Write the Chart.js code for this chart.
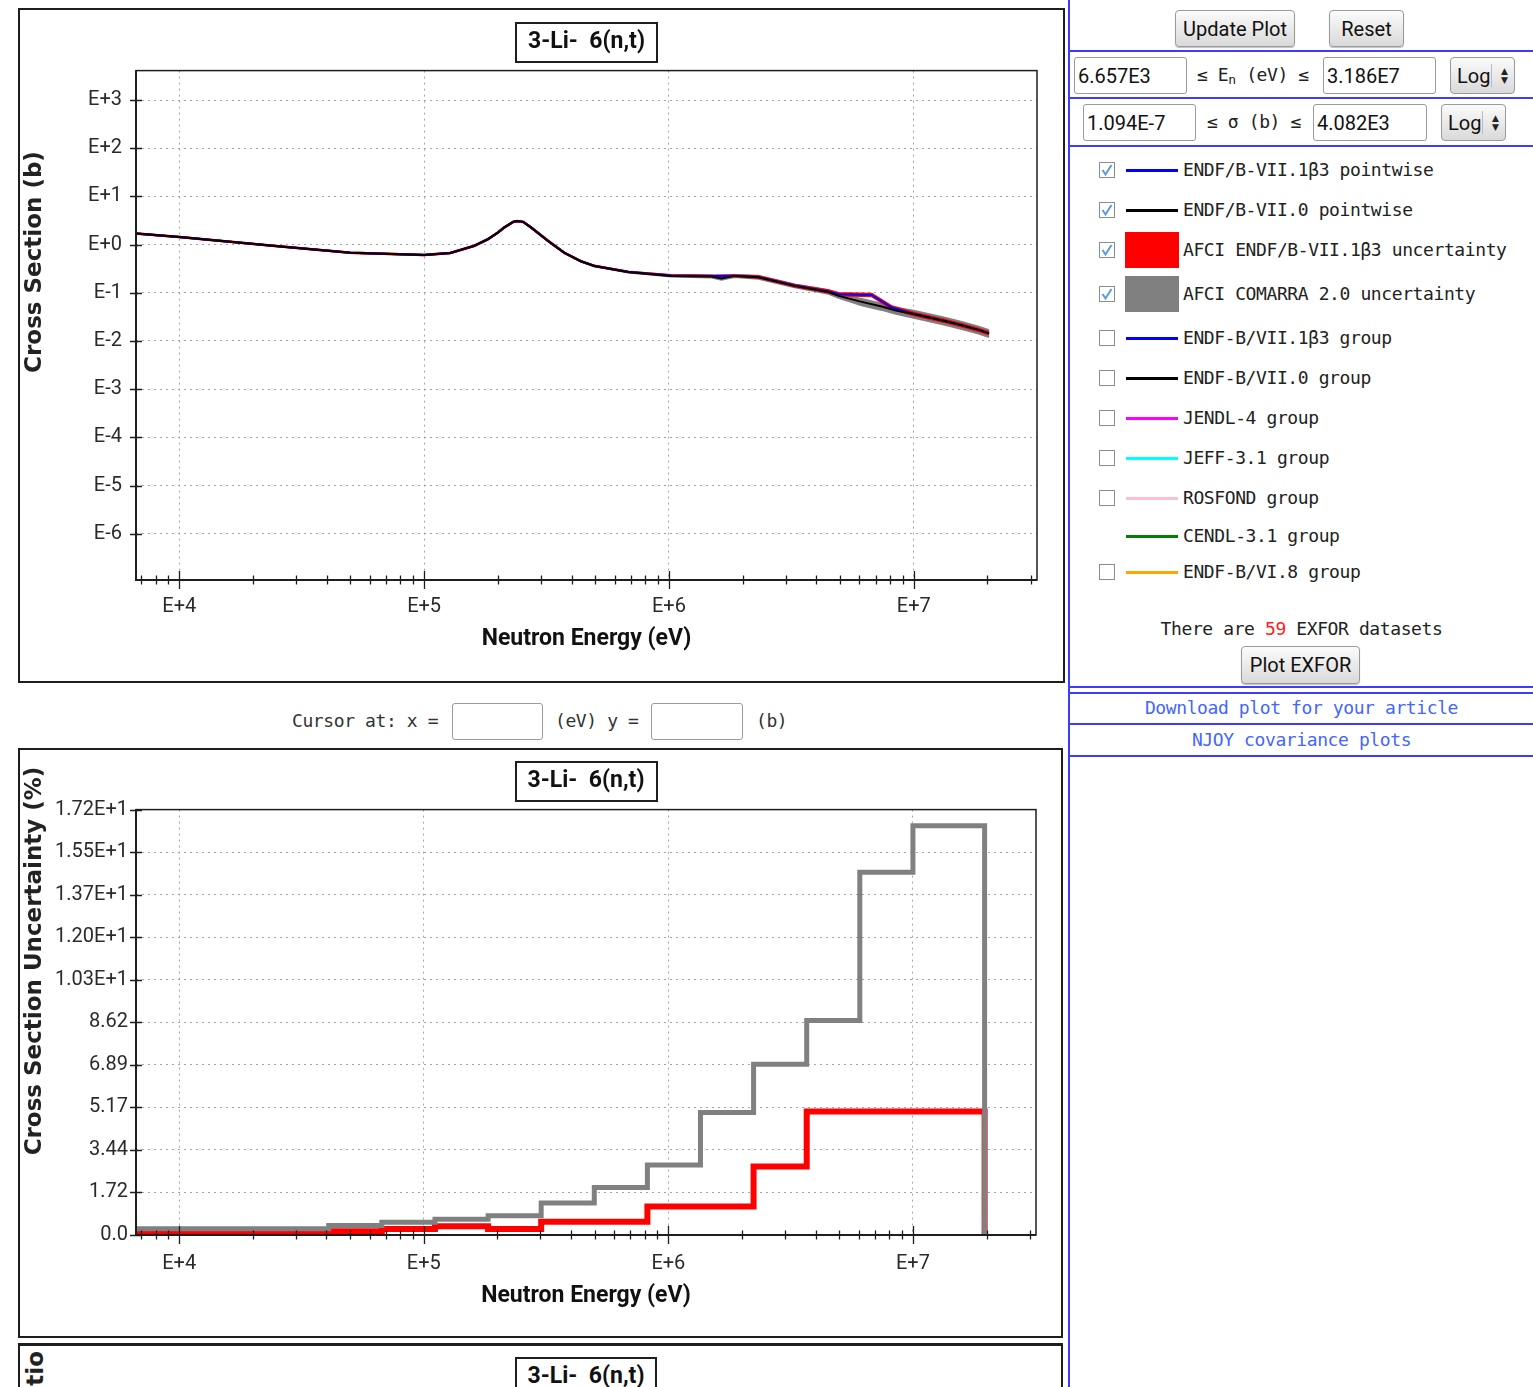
<!DOCTYPE html>
<html><head><meta charset="utf-8"><title>3-Li-6(n,t)</title>
<script src="https://cdn.jsdelivr.net/npm/chart.js@4.4.1/dist/chart.umd.min.js"></script>
<style>
html,body{margin:0;padding:0;width:1533px;height:1387px;overflow:hidden;background:#fff;}
.a{position:absolute;}
.box{position:absolute;border:2px solid #1e1e1e;box-sizing:border-box;background:#fff;}
.mono{position:absolute;font-family:'DejaVu Sans Mono',monospace;font-size:18px;letter-spacing:-0.4px;color:#222;white-space:pre;line-height:20px;}
.nar{font-family:Roboto,'Liberation Sans Narrow',sans-serif;}
.btn{position:absolute;box-sizing:border-box;border:1px solid #9a9a9a;border-radius:4px;background:linear-gradient(#fbfbfb,#d9d9d9);box-shadow:0 1px 1px rgba(0,0,0,0.25);font-size:20px;color:#111;display:flex;align-items:center;justify-content:center;}
.inp{position:absolute;box-sizing:border-box;border:1px solid #9a9a9a;border-radius:3px;background:#fff;font-size:20px;color:#111;padding-left:3px;display:flex;align-items:center;}
.sel{position:absolute;box-sizing:border-box;border:1px solid #9a9a9a;border-radius:4px;background:linear-gradient(#fbfbfb,#d9d9d9);font-size:20px;color:#111;}
.sel .t{position:absolute;left:6px;top:0;bottom:0;display:flex;align-items:center;}
.sel .s{position:absolute;right:22px;top:6px;bottom:6px;width:1px;background:#bbb;}
.sel .ar{position:absolute;right:6px;top:50%;transform:translateY(-50%);font-size:9px;line-height:9px;color:#222;font-family:'DejaVu Sans',sans-serif;}
.bl{position:absolute;background:#3c3cff;}
.cb{position:absolute;left:1099px;}
.sw{position:absolute;left:1126px;width:52px;height:3px;}
.lnk{position:absolute;left:1070px;width:463px;text-align:center;color:#4466ff;}
</style></head><body>

<!-- left panel boxes -->
<div class="box" style="left:18px;top:8px;width:1047px;height:675px;"></div>
<canvas id="c1" class="a" style="left:20px;top:10px;" width="1042" height="670"></canvas>

<div class="mono" style="left:292px;top:711px;color:#333;">Cursor at: x =</div>
<div class="inp" style="left:452px;top:703px;width:91px;height:37px;"></div>
<div class="mono" style="left:555px;top:711px;color:#333;">(eV) y =</div>
<div class="inp" style="left:651px;top:703px;width:92px;height:37px;"></div>
<div class="mono" style="left:756px;top:711px;color:#333;">(b)</div>

<div class="box" style="left:18px;top:748px;width:1045px;height:590px;"></div>
<canvas id="c2" class="a" style="left:20px;top:750px;" width="1041" height="586"></canvas>

<div class="box" style="left:18px;top:1343px;width:1045px;height:100px;border-top-width:3px;"></div>
<div class="a nar" style="left:515px;top:1357px;width:142px;height:40px;box-sizing:border-box;border:2px solid #1e1e1e;font-size:23px;font-weight:bold;color:#111;text-align:center;line-height:34px;white-space:pre;">3-Li-  6(n,t)</div>
<div class="a" style="left:23px;top:1351px;transform-origin:0 0;transform:rotate(-90deg) translateX(-100%);font-family:'DejaVu Sans',sans-serif;font-weight:bold;font-size:23px;line-height:25px;color:#222;white-space:nowrap;">Ratio</div>

<!-- right panel -->
<div class="bl" style="left:1068px;top:0;width:2px;height:1387px;"></div>
<div class="bl" style="left:1070px;top:50px;width:463px;height:2px;"></div>
<div class="bl" style="left:1070px;top:97px;width:463px;height:2px;"></div>
<div class="bl" style="left:1070px;top:145px;width:463px;height:2px;"></div>
<div class="bl" style="left:1070px;top:686px;width:463px;height:2px;"></div>
<div class="bl" style="left:1070px;top:692px;width:463px;height:2px;"></div>
<div class="bl" style="left:1070px;top:723px;width:463px;height:2px;"></div>
<div class="bl" style="left:1070px;top:755px;width:463px;height:2px;"></div>

<div class="btn nar" style="left:1175px;top:10px;width:120px;height:37px;">Update Plot</div>
<div class="btn nar" style="left:1329px;top:10px;width:75px;height:37px;">Reset</div>

<div class="inp nar" style="left:1074px;top:57px;width:113px;height:37px;">6.657E3</div>
<div class="mono" style="left:1197px;top:65px;">≤ E<span style="font-size:13px;vertical-align:-3px;">n</span> (eV) ≤</div>
<div class="inp nar" style="left:1323px;top:57px;width:113px;height:37px;">3.186E7</div>
<div class="sel nar" style="left:1450px;top:57px;width:65px;height:37px;"><span class="t">Log</span><span class="s"></span><span class="ar">▲<br>▼</span></div>

<div class="inp nar" style="left:1083px;top:104px;width:113px;height:37px;">1.094E-7</div>
<div class="mono" style="left:1207px;top:112px;">≤ σ (b) ≤</div>
<div class="inp nar" style="left:1313px;top:104px;width:114px;height:37px;">4.082E3</div>
<div class="sel nar" style="left:1441px;top:104px;width:65px;height:37px;"><span class="t">Log</span><span class="s"></span><span class="ar">▲<br>▼</span></div>

<div id="legend"></div>

<div class="mono" style="left:1070px;top:619px;width:463px;text-align:center;">There are <span style="color:#ff2020;">59</span> EXFOR datasets</div>
<div class="btn nar" style="left:1241px;top:646px;width:119px;height:38px;">Plot EXFOR</div>
<div class="mono lnk" style="top:698px;color:#4466ff;">Download plot for your article</div>
<div class="mono lnk" style="top:730px;color:#4466ff;">NJOY covariance plots</div>

<script>
// ---------------- data ----------------
// axis limits (from the range boxes)
const xMin = 6.657e3, xMax = 3.186e7;
const yMin = 1.094e-7, yMax = 4.082e3;

// tick labels
const xMajor = [1e4, 1e5, 1e6, 1e7];
const xMajorLabels = ['E+4', 'E+5', 'E+6', 'E+7'];
const yMajor = [1e-6, 1e-5, 1e-4, 1e-3, 1e-2, 1e-1, 1, 10, 100, 1000];
const yMajorLabels = ['E-6', 'E-5', 'E-4', 'E-3', 'E-2', 'E-1', 'E+0', 'E+1', 'E+2', 'E+3'];
const uncTicks = [0, 1.723, 3.446, 5.169, 6.892, 8.615, 10.338, 12.061, 13.784, 15.507, 17.23];
const uncTickLabels = ['0.0', '1.72', '3.44', '5.17', '6.89', '8.62', '1.03E+1', '1.20E+1', '1.37E+1', '1.55E+1', '1.72E+1'];
const uncMax = 17.23;

// ENDF/B-VII.0 pointwise cross section (eV, barn)
const e70 = [6.66e3, 1.0e4, 2.6e4, 5.0e4, 1.0e5, 1.28e5, 1.6e5, 1.82e5, 2.0e5, 2.12e5, 2.31e5, 2.39e5, 2.54e5, 2.74e5, 3.21e5, 3.73e5, 4.37e5, 4.96e5, 6.82e5, 1.02e6, 1.49e6, 1.64e6, 1.85e6, 2.32e6, 3.26e6, 4.49e6, 4.93e6, 6.13e6, 7.40e6, 8.37e6, 1.01e7, 1.34e7, 1.57e7, 1.84e7, 2.03e7];
const xs70 = [1.69, 1.44, 0.91, 0.68, 0.61, 0.67, 0.94, 1.29, 1.77, 2.25, 2.96, 3.07, 2.96, 2.25, 1.19, 0.68, 0.45, 0.36, 0.27, 0.224, 0.217, 0.197, 0.224, 0.21, 0.139, 0.104, 0.0863, 0.0648, 0.0517, 0.0433, 0.0358, 0.026, 0.0212, 0.017, 0.0144];

// ENDF/B-VII.1b3 pointwise cross section (eV, barn)
const e71 = [6.66e3, 1.0e4, 2.6e4, 5.0e4, 1.0e5, 1.28e5, 1.6e5, 1.82e5, 2.0e5, 2.12e5, 2.31e5, 2.39e5, 2.54e5, 2.74e5, 3.21e5, 3.73e5, 4.37e5, 4.96e5, 6.82e5, 1.02e6, 1.49e6, 1.85e6, 2.32e6, 3.26e6, 4.49e6, 4.93e6, 6.73e6, 8.13e6, 1.01e7, 1.34e7, 1.57e7, 1.84e7, 2.03e7];
const xs71 = [1.69, 1.44, 0.91, 0.68, 0.61, 0.67, 0.94, 1.29, 1.77, 2.25, 2.96, 3.07, 2.96, 2.25, 1.19, 0.68, 0.45, 0.36, 0.27, 0.229, 0.222, 0.226, 0.212, 0.141, 0.106, 0.093, 0.090, 0.0493, 0.0358, 0.026, 0.0212, 0.017, 0.0144];

// uncertainty group boundaries (eV) and relative uncertainties (%)
const uncEdges = [5.531e3, 4.087e4, 6.738e4, 1.111e5, 1.832e5, 3.020e5, 4.979e5, 8.209e5, 1.353e6, 2.231e6, 3.679e6, 6.065e6, 1.0e7, 1.964e7];
const comarraUnc = [0.25, 0.38, 0.52, 0.64, 0.78, 1.30, 1.92, 2.84, 4.96, 6.92, 8.69, 14.69, 16.58];
const endf71Unc = [0.05, 0.15, 0.24, 0.35, 0.24, 0.54, 0.54, 1.15, 1.15, 2.77, 5.00, 5.00, 5.00];

// ---------------- helpers ----------------
const NARROW = "Roboto, 'Liberation Sans Narrow', sans-serif";
const xMinor = [];
[1e3, 1e4, 1e5, 1e6, 1e7].forEach(d => { for (let m = 2; m <= 9; m++) { const v = m * d; if (v > xMin && v < xMax) xMinor.push(v); } });

const pts = (ex, ys) => ex.map((e, i) => ({ x: e, y: ys[i] }));
const uncAt = (e, vals) => { let k = 0; while (k < vals.length - 1 && e >= uncEdges[k + 1]) k++; return vals[k]; };
const band = (ex, ys, vals, sign) => ex.map((e, i) => ({ x: e, y: ys[i] * (1 + sign * uncAt(e, vals) / 100) }));
const stepPts = (edges, vals) => {
  const p = vals.map((v, i) => ({ x: edges[i], y: v }));
  p.push({ x: edges[vals.length], y: vals[vals.length - 1] });
  p.push({ x: edges[vals.length], y: 0 });
  return p;
};

// ---------------- plugins ----------------
const frameTicks = {
  id: 'frameTicks',
  afterDatasetsDraw(chart, args, o) {
    const { ctx, chartArea: a, scales } = chart;
    const sx = scales.x, sy = scales.y;
    ctx.save();
    ctx.strokeStyle = '#1e1e1e';
    ctx.lineWidth = 1.5;
    ctx.strokeRect(a.left, a.top, a.right - a.left, a.bottom - a.top);
    ctx.lineWidth = 2;
    ctx.beginPath(); ctx.moveTo(a.left, a.top); ctx.lineTo(a.left, a.bottom); ctx.lineTo(a.right, a.bottom); ctx.stroke();
    ctx.lineWidth = 1.3;
    ctx.beginPath();
    xMajor.forEach(v => { const p = Math.round(sx.getPixelForValue(v)) + 0.5; ctx.moveTo(p, a.bottom - 9); ctx.lineTo(p, a.bottom + 9); });
    xMinor.forEach(v => { const p = Math.round(sx.getPixelForValue(v)) + 0.5; if (p > a.left + 1 && p < a.right - 1) { ctx.moveTo(p, a.bottom - 4.5); ctx.lineTo(p, a.bottom + 4.5); } });
    o.yTicks.forEach(v => { const p = Math.round(sy.getPixelForValue(v)) + 0.5; ctx.moveTo(a.left - 6, p); ctx.lineTo(a.left + 6, p); });
    ctx.stroke();
    ctx.restore();
  }
};
const titleBox = {
  id: 'titleBox',
  afterDraw(chart) {
    const t = chart.titleBlock; if (!t) return;
    const to = chart.options.plugins.title;
    const font = Chart.helpers.toFont(to.font);
    const pad = Chart.helpers.toPadding(to.padding);
    const ctx = chart.ctx;
    ctx.save();
    ctx.font = font.string;
    const w = ctx.measureText(to.text).width + 24;
    const cx = (t.left + t.right) / 2;
    const cy = t.top + pad.top + font.lineHeight / 2;
    ctx.strokeStyle = '#1e1e1e'; ctx.lineWidth = 2;
    ctx.strokeRect(Math.round(cx - w / 2), Math.round(cy - 19), Math.round(w), 39);
    ctx.restore();
  }
};
const yTitle = {
  id: 'yTitle',
  afterDraw(chart, args, o) {
    const ctx = chart.ctx;
    ctx.save();
    ctx.translate(o.x, o.y); ctx.rotate(-Math.PI / 2);
    ctx.font = "bold 23px 'DejaVu Sans', sans-serif";
    ctx.fillStyle = '#222'; ctx.textAlign = 'center'; ctx.textBaseline = 'middle';
    ctx.fillText(o.text, 0, 0);
    ctx.restore();
  }
};

const gridCfg = { color: '#a4a4a4', lineWidth: 1, drawTicks: false };
const borderCfg = { display: false, dash: [2, 4] };
const tickFont = { family: NARROW, size: 20 };

function xScale(h, lblPad, titlePad) {
  return {
    type: 'logarithmic', position: 'bottom', min: xMin, max: xMax, bounds: 'data',
    afterBuildTicks: s => { s.ticks = xMajor.map(v => ({ value: v, major: true })); },
    afterFit: s => { s.height = h; },
    ticks: { autoSkip: false, maxRotation: 0, padding: lblPad, color: '#2a2a2a', font: tickFont,
      callback: v => { const i = xMajor.indexOf(v); return i >= 0 ? xMajorLabels[i] : ''; } },
    grid: gridCfg, border: borderCfg,
    title: { display: true, text: 'Neutron Energy (eV)', color: '#111', font: { family: NARROW, size: 23, weight: 'bold' }, padding: { top: 0, bottom: titlePad } }
  };
}

// ---------------- chart 1: cross section ----------------
new Chart(document.getElementById('c1'), {
  type: 'line',
  data: {
    datasets: [
      { label: 'ENDF/B-VII.0 pointwise', data: pts(e70, xs70), borderColor: '#000000', borderWidth: 2, pointRadius: 0, tension: 0, fill: false },
      { label: 'ENDF/B-VII.1β3 pointwise', data: pts(e71, xs71), borderColor: '#0000ff', borderWidth: 2, pointRadius: 0, tension: 0, fill: false },
      { label: 'AFCI ENDF/B-VII.1β3 uncertainty', data: band(e71, xs71, endf71Unc, 1), borderColor: '#ff0000', borderWidth: 2.5, pointRadius: 0, tension: 0, fill: false },
      { label: 'AFCI ENDF/B-VII.1β3 uncertainty (low)', data: band(e71, xs71, endf71Unc, -1), borderColor: '#ff0000', backgroundColor: '#ff0000', borderWidth: 2.5, pointRadius: 0, tension: 0, fill: '-1' },
      { label: 'AFCI COMARRA 2.0 uncertainty', data: band(e70, xs70, comarraUnc, 1), borderColor: '#808080', borderWidth: 2, pointRadius: 0, tension: 0, fill: false },
      { label: 'AFCI COMARRA 2.0 uncertainty (low)', data: band(e70, xs70, comarraUnc, -1), borderColor: '#808080', backgroundColor: '#808080', borderWidth: 2, pointRadius: 0, tension: 0, fill: '-1' }
    ]
  },
  options: {
    responsive: false, animation: false, devicePixelRatio: 1,
    layout: { padding: { left: 0, right: 25, top: 0, bottom: 0 } },
    plugins: {
      legend: { display: false }, tooltip: { enabled: false },
      title: { display: true, text: '3-Li-  6(n,t)', fullSize: false, color: '#111', font: { family: NARROW, size: 23, weight: 'bold' }, padding: { top: 18, bottom: 15 } },
      yTitle: { text: 'Cross Section (b)', x: 15, y: 252 },
      frameTicks: { yTicks: yMajor }
    },
    scales: {
      x: xScale(100, 15, 27),
      y: {
        type: 'logarithmic', min: yMin, max: yMax, bounds: 'data',
        afterBuildTicks: s => { s.ticks = yMajor.map(v => ({ value: v, major: true })); },
        afterFit: s => { s.width = 116; },
        ticks: { autoSkip: false, padding: 14, color: '#2a2a2a', font: tickFont,
          callback: v => { const i = yMajor.indexOf(v); return i >= 0 ? yMajorLabels[i] : ''; } },
        grid: gridCfg, border: borderCfg
      }
    }
  },
  plugins: [frameTicks, titleBox, yTitle]
});

// ---------------- chart 2: uncertainty ----------------
new Chart(document.getElementById('c2'), {
  type: 'line',
  data: {
    datasets: [
      { label: 'AFCI COMARRA 2.0 uncertainty', data: stepPts(uncEdges, comarraUnc), stepped: true, borderColor: '#808080', borderWidth: 5, pointRadius: 0, fill: false },
      { label: 'AFCI ENDF/B-VII.1β3 uncertainty', data: stepPts(uncEdges, endf71Unc), stepped: true, borderColor: '#ff0000', borderWidth: 6, pointRadius: 0, fill: false }
    ]
  },
  options: {
    responsive: false, animation: false, devicePixelRatio: 1,
    layout: { padding: { left: 0, right: 25, top: 0, bottom: 0 } },
    plugins: {
      legend: { display: false }, tooltip: { enabled: false },
      title: { display: true, text: '3-Li-  6(n,t)', fullSize: false, color: '#111', font: { family: NARROW, size: 23, weight: 'bold' }, padding: { top: 17, bottom: 15 } },
      yTitle: { text: 'Cross Section Uncertainty (%)', x: 15, y: 211 },
      frameTicks: { yTicks: uncTicks }
    },
    scales: {
      x: xScale(101, 17, 26),
      y: {
        type: 'linear', min: 0, max: uncMax,
        afterBuildTicks: s => { s.ticks = uncTicks.map(v => ({ value: v })); },
        afterFit: s => { s.width = 116; },
        ticks: { autoSkip: false, padding: 8, color: '#2a2a2a', font: tickFont,
          callback: (v, i) => uncTickLabels[i] },
        grid: gridCfg, border: borderCfg
      }
    }
  },
  plugins: [frameTicks, titleBox, yTitle]
});

// ---------------- right-panel legend ----------------
const legendItems = [
  ['ENDF/B-VII.1β3 pointwise', '#0000ff', 'line', 1],
  ['ENDF/B-VII.0 pointwise', '#000000', 'line', 1],
  ['AFCI ENDF/B-VII.1β3 uncertainty', '#ff0000', 'rect', 1],
  ['AFCI COMARRA 2.0 uncertainty', '#808080', 'rect', 1],
  ['ENDF-B/VII.1β3 group', '#0000ff', 'line', 0],
  ['ENDF-B/VII.0 group', '#000000', 'line', 0],
  ['JENDL-4 group', '#ff00ff', 'line', 0],
  ['JEFF-3.1 group', '#00ffff', 'line', 0],
  ['ROSFOND group', '#ffc0cb', 'line', 0],
  ['CENDL-3.1 group', '#008000', 'line', -1],
  ['ENDF-B/VI.8 group', '#ffa500', 'line', 0]
];
const rowY = [170, 210, 250, 294, 338, 378, 418, 458, 498, 536, 572];
const lg = document.getElementById('legend');
legendItems.forEach((it, i) => {
  const y = rowY[i];
  let h = '';
  if (it[3] >= 0) {
    h += `<svg class="cb" style="top:${y - 8}px" width="17" height="17"><rect x="0.5" y="0.5" width="15" height="15" fill="#fff" stroke="#8c8c8c"/>` +
      (it[3] ? '<polyline points="3.5,8 6.5,12.5 12.5,3" fill="none" stroke="#5a9be0" stroke-width="2"/>' : '') + '</svg>';
  }
  if (it[2] === 'line') h += `<div class="sw" style="top:${y - 1}px;background:${it[1]}"></div>`;
  else h += `<div class="a" style="left:1125px;top:${y - 18}px;width:54px;height:36px;background:${it[1]}"></div>`;
  h += `<div class="mono" style="left:1183px;top:${y - 10}px;">${it[0]}</div>`;
  lg.insertAdjacentHTML('beforeend', h);
});
</script>
</body></html>
